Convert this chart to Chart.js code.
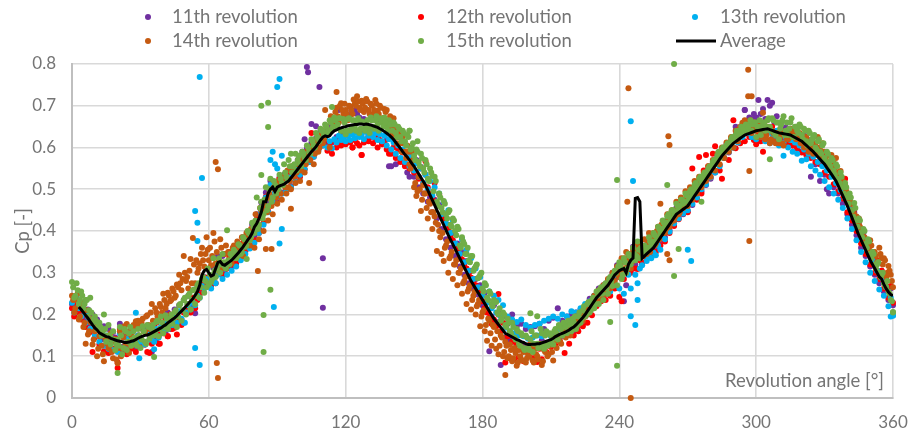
<!DOCTYPE html>
<html>
<head>
<meta charset="utf-8">
<title>Cp over revolution angle</title>
<script src="https://cdn.jsdelivr.net/npm/chart.js@4"></script>
<style>
    html, body { margin: 0; background: #fff; }
    #box { position: relative; width: 909px; height: 430px; }
</style>
</head>
<body>
<div id="box"><canvas id="cpChart"></canvas></div>
<script>
// Values are Cp x 1000, one per degree from 0 to 360
const rev11 = [
225,240,218,232,205,228,190,212,178,200,
160,188,175,140,172,128,165,138,158,145,
128,178,122,150,118,160,128,165,118,150,
132,170,128,168,150,110,175,142,150,160,
195,158,205,165,178,212,175,222,188,235,
202,245,212,218,203,268,252,280,290,282,
278,270,312,295,340,310,340,300,312,345,
315,358,322,368,338,385,352,398,365,415,
388,440,405,468,448,492,470,520,482,515,
485,528,492,535,498,545,508,555,520,570,
535,590,585,598,575,612,590,622,595,640,
612,640,610,650,612,660,625,690,635,672,
688,640,678,632,690,680,672,635,668,650,
630,672,640,668,625,665,610,655,620,555,
555,640,560,625,570,610,560,540,530,585,
530,570,505,553,490,535,470,480,445,475,
430,462,405,438,380,415,360,395,340,370,
315,350,295,328,275,305,262,285,248,270,
222,252,208,112,195,222,182,205,79,195,
145,178,140,200,135,172,130,178,128,165,
125,170,130,172,128,178,138,165,130,185,
135,192,148,215,145,185,150,195,158,200,
160,205,172,212,178,220,200,238,215,245,
228,262,240,270,250,282,262,300,285,318,
290,325,232,270,345,305,362,320,340,355,
322,365,335,372,342,380,355,392,372,408,
385,425,402,438,418,455,430,468,440,475,
448,488,462,500,478,515,495,532,510,548,
525,565,540,580,558,595,575,608,588,618,
600,650,628,640,655,690,662,672,668,680,
672,714,680,692,668,714,700,707,660,675,
625,655,620,648,615,640,605,630,598,622,
590,630,585,618,530,610,560,595,520,580,
535,500,490,550,505,540,490,520,465,495,
440,470,415,445,390,420,360,395,340,370,
315,345,295,325,275,305,255,285,235,262,222
];
const rev12 = [
215,195,228,205,188,215,170,198,158,110,
145,172,128,155,112,148,108,135,118,142,
72,165,112,150,105,158,118,145,110,172,
122,165,128,110,108,130,150,180,130,160,
155,190,148,200,165,168,152,190,175,205,
213,225,205,240,215,235,248,262,272,288,
278,270,285,275,300,305,295,322,310,338,
320,345,325,358,335,372,352,385,362,402,
378,428,395,455,420,482,448,505,468,498,
475,525,490,530,498,535,505,548,520,560,
530,575,548,590,565,635,578,612,595,625,
605,618,592,610,585,615,600,612,605,618,
608,615,612,600,618,610,605,582,612,620,
615,625,610,622,600,618,608,612,595,585,
585,600,575,595,565,588,555,578,550,572,
540,565,525,550,515,567,505,490,480,515,
462,488,435,425,410,405,385,378,365,355,
340,332,320,310,298,288,278,270,262,255,
232,215,205,192,178,188,172,249,160,180,
85,148,95,135,92,128,98,122,88,118,
112,130,95,125,86,118,93,130,110,128,
122,140,125,150,135,165,108,155,130,160,
150,170,160,185,172,195,180,212,198,225,
220,240,232,250,235,265,245,285,262,305,
242,232,285,300,322,300,340,310,309,330,
325,352,335,345,340,368,350,385,365,400,
375,420,395,438,412,448,428,462,442,475,
445,485,550,498,475,577,490,545,582,555,
528,585,603,570,545,525,575,600,570,622,
665,598,642,610,650,615,655,625,640,618,
608,632,615,590,620,640,618,650,625,635,
612,638,615,630,610,635,605,625,598,612,
588,618,582,605,575,595,565,588,560,578,
540,565,530,555,512,535,495,520,478,525,
445,472,425,452,400,430,370,400,345,378,
320,348,300,330,285,305,262,290,240,268,228
];
const rev13 = [
228,205,240,215,195,222,180,205,165,190,
150,178,135,160,125,150,118,142,115,135,
110,155,118,145,125,148,128,140,132,150,
135,165,128,158,140,148,135,165,145,170,
160,178,165,188,175,195,180,208,190,180,
205,222,212,228,222,245,240,268,262,285,
270,262,280,275,295,305,285,310,295,325,
305,335,315,348,330,362,345,375,358,392,
372,420,395,445,415,480,445,510,470,492,
480,512,490,520,498,528,505,538,518,552,
535,568,548,585,565,598,578,608,592,618,
605,622,600,615,598,620,612,628,618,625,
615,628,618,632,622,635,625,630,620,638,
628,640,625,635,618,632,615,628,605,620,
595,612,585,605,575,595,565,585,555,578,
545,562,530,550,515,535,500,520,485,505,
465,490,440,470,418,450,395,425,370,405,
345,380,325,355,305,335,285,310,265,290,
245,270,228,255,215,245,205,235,195,222,
168,195,160,188,155,182,150,188,148,175,
142,168,145,175,150,178,148,185,155,190,
148,195,160,190,165,200,168,195,172,208,
175,205,188,215,195,225,210,232,218,245,
228,252,238,262,250,272,255,290,270,298,
262,290,250,305,295,262,330,295,275,310,
318,345,328,338,335,348,342,365,355,385,
380,412,398,428,418,445,430,458,442,470,
450,480,465,492,480,510,500,525,512,545,
528,555,540,575,555,590,575,600,590,612,
600,628,612,640,625,660,635,650,625,640,
620,652,625,645,615,638,610,632,618,640,
605,632,612,625,600,618,590,612,585,605,
568,595,572,585,555,578,545,565,535,555,
520,545,505,530,490,515,475,498,455,480,
430,455,405,430,378,405,350,380,325,355,
300,330,280,305,260,288,245,265,220,240,198
];
const rev14 = [
245,205,235,188,222,170,130,152,182,128,
160,100,148,125,88,140,120,155,95,135,
83,160,118,172,177,108,150,175,184,185,
168,190,158,198,165,225,180,205,190,218,
250,215,252,232,262,240,272,295,258,340,
280,262,333,383,275,300,322,360,315,385,
330,318,395,322,305,380,310,345,320,350,
322,365,335,352,345,340,375,388,365,405,
360,420,380,450,400,460,425,478,440,500,
465,510,475,525,490,505,500,545,515,560,
520,572,540,582,515,598,560,610,590,625,
610,690,630,600,670,645,695,660,706,680,
690,665,698,680,705,723,695,712,685,716,
690,705,680,714,688,700,670,692,690,665,
650,670,625,640,610,625,590,605,560,590,
505,484,530,448,510,490,430,465,405,435,
352,400,345,328,365,300,340,285,320,270,
300,250,280,225,262,212,245,200,225,172,
205,160,137,185,125,170,118,105,150,100,
135,95,128,88,120,77,115,92,110,85,
105,128,90,118,100,130,79,115,125,105,
130,90,145,150,135,165,150,170,158,185,
165,195,175,205,185,215,200,230,215,245,
228,258,240,270,250,285,262,300,280,315,
290,335,310,350,330,310,355,335,370,345,
350,380,345,395,360,395,370,410,465,420,
395,440,410,450,425,470,440,480,455,495,
460,505,475,520,490,530,505,540,520,555,
530,570,545,585,560,600,575,612,590,625,
600,640,615,650,659,665,640,660,635,655,
640,655,625,683,620,650,610,640,615,635,
610,640,605,630,620,645,630,640,625,635,
630,600,625,590,615,585,610,625,600,610,
590,560,582,582,562,575,540,544,520,510,
490,475,465,440,435,415,405,385,375,355,
378,345,350,325,360,335,335,290,316,295,265
];
const rev15 = [
278,240,275,225,255,215,235,195,240,180,
195,165,180,150,200,135,175,128,160,115,
140,170,105,165,115,155,125,160,130,165,
120,172,135,175,142,165,150,182,148,195,
155,198,165,190,178,205,170,222,185,235,
200,245,212,258,225,270,240,285,252,265,
272,278,335,290,320,300,345,315,402,320,
345,355,335,368,345,385,362,400,378,420,
395,480,415,470,440,505,460,525,480,510,
505,535,515,560,530,570,585,555,585,570,
560,590,575,605,590,620,605,635,622,645,
640,655,635,665,645,672,650,670,640,668,
632,668,640,665,648,660,635,662,645,655,
645,672,650,665,655,670,660,672,650,665,
655,660,635,650,625,640,615,630,640,600,
580,595,565,585,550,570,525,550,532,530,
470,490,455,472,440,445,415,430,400,410,
365,385,369,345,330,340,305,315,287,295,
262,275,240,255,225,235,230,200,185,205,
175,190,160,180,145,165,130,155,120,150,
120,140,110,150,130,125,155,118,160,130,
150,128,165,140,172,150,178,155,182,160,
182,165,195,180,210,195,225,205,235,215,
255,225,265,235,275,250,290,268,305,270,
325,285,335,300,345,320,360,330,375,335,
350,365,350,385,365,395,375,410,395,425,
410,435,420,450,440,465,450,475,465,490,
470,495,485,510,500,525,515,535,530,550,
545,565,560,580,575,595,590,605,600,620,
615,630,625,640,635,650,640,655,640,660,
625,650,630,655,640,665,650,670,635,660,
620,655,675,640,630,660,625,650,640,655,
630,645,615,640,610,625,600,615,590,605,
575,590,565,575,545,560,525,540,505,515,
480,490,450,467,425,430,395,405,370,380,
345,350,320,320,300,295,275,265,255,235,205
];
// The two densest revolutions also have a reading between each whole degree
const rev14Half = [
235,215,250,195,228,180,210,160,190,140,
170,118,155,105,145,130,125,110,140,92,
120,100,145,130,155,125,165,140,175,150,
180,160,195,175,205,185,215,195,225,205,
235,225,245,235,255,245,265,275,285,300,
290,305,275,320,330,310,345,330,345,355,
360,340,375,350,330,360,345,365,350,340,
360,345,375,360,385,370,395,385,405,420,
440,410,455,430,475,445,490,460,505,480,
520,490,530,505,545,520,555,530,540,565,
545,575,560,590,570,605,585,620,600,635,
620,650,640,675,660,685,675,700,690,705,
680,700,690,715,700,710,690,705,695,710,
680,700,690,705,680,695,665,685,655,675,
630,650,610,630,590,610,575,590,550,570,
515,495,500,475,490,455,470,445,445,420,
415,385,395,360,375,335,350,320,330,300,
310,275,290,255,270,235,255,220,235,195,
210,175,190,155,175,140,160,125,145,110,
125,100,115,95,108,85,100,90,112,95,
100,115,85,105,92,120,88,110,100,125,
110,135,120,140,130,155,145,165,150,175,
165,185,180,200,195,210,210,225,225,240,
245,235,262,250,275,265,290,275,305,295,
320,305,335,315,345,325,340,350,360,340,
340,355,370,350,385,365,400,380,415,395,
405,425,420,440,435,455,445,465,460,480,
475,490,490,505,505,520,515,535,530,550,
550,565,565,580,580,595,590,605,605,620,
620,635,630,645,645,655,650,665,645,660,
625,645,635,660,630,645,620,635,610,630,
625,610,635,620,640,625,635,620,630,610,
620,605,615,595,605,590,600,580,590,575,
575,560,565,550,550,535,530,515,505,495,
480,465,450,435,425,410,395,385,370,355,
365,350,340,325,345,320,330,300,305,280
];
const rev15Half = [
265,245,258,235,245,225,235,210,205,190,
185,175,170,160,165,150,150,140,140,128,
125,150,120,160,135,170,140,145,125,150,
140,160,130,170,150,175,160,185,165,180,
170,190,175,200,190,210,195,225,210,240,
225,250,235,260,245,275,265,290,280,310,
295,285,305,310,335,320,325,310,330,345,
335,350,340,365,350,380,365,395,385,410,
425,405,455,430,475,450,500,470,520,490,
500,525,510,540,525,555,540,560,545,580,
555,585,570,600,585,615,600,625,615,640,
630,650,640,660,650,665,655,670,640,660,
640,670,650,665,640,670,645,660,640,665,
635,665,645,675,640,665,650,660,640,655,
640,655,625,645,615,635,605,625,595,610,
570,590,555,575,540,560,520,540,495,520,
460,480,445,465,430,450,410,425,390,405,
360,375,345,360,325,340,310,320,290,300,
255,270,235,250,220,230,205,215,190,200,
170,180,155,170,140,160,125,150,115,145,
115,160,130,150,120,165,130,150,125,155,
140,160,155,175,165,180,170,185,175,190,
195,175,205,190,220,200,230,210,240,225,
245,260,250,270,262,285,280,295,300,315,
315,295,325,310,340,330,345,340,355,360,
345,360,360,375,375,390,385,405,405,420,
420,440,430,450,445,460,460,475,470,485,
480,500,495,515,505,530,525,540,535,555,
555,570,570,590,585,600,595,610,610,625,
625,640,630,650,645,655,650,665,655,660,
650,665,645,660,650,670,640,665,630,660,
645,665,630,660,645,670,625,650,635,650,
620,640,605,635,620,630,595,620,585,610,
565,585,555,570,535,555,515,530,490,505,
465,480,435,455,410,425,385,400,360,375,
335,345,310,325,290,300,270,280,250,232
];
const average = [
null,null,null,218,212,205,198,191,183,175,
168,163,156,153,150,147,146,143,141,139,
137,136,135,133,133,134,136,137,140,143,
146,148,150,151,153,156,159,162,165,168,
172,175,180,184,188,192,197,203,208,214,
220,226,232,238,246,255,270,295,305,308,
300,292,295,310,325,327,320,318,322,326,
330,336,342,348,355,362,370,378,385,395,
410,418,430,445,470,470,490,500,505,495,
505,508,510,512,516,520,527,534,541,548,
555,562,569,576,583,590,596,602,610,618,
625,628,626,628,635,640,642,645,647,649,
650,652,653,654,655,655,656,656,655,656,
655,654,652,650,648,645,642,638,634,630,
625,619,612,605,598,590,583,577,570,562,
555,546,537,528,519,510,498,486,474,462,
450,438,426,414,402,390,379,368,357,346,
335,324,313,302,291,280,271,262,253,244,
235,226,217,208,199,190,183,176,169,162,
155,152,149,146,143,140,138,135,133,130,
128,128,129,129,130,130,132,134,136,138,
140,143,147,150,153,155,157,160,163,167,
170,175,181,187,193,200,208,216,224,232,
240,246,252,258,264,270,278,286,295,300,
305,308,310,300,320,330,335,478,480,470,
335,340,345,350,355,360,368,376,384,392,
400,408,416,424,432,440,444,448,452,456,
460,468,476,484,492,500,508,516,524,532,
540,548,556,564,572,580,586,592,598,604,
610,614,618,622,626,630,632,634,636,638,
640,641,642,643,644,645,643,641,639,637,
635,634,633,632,631,630,627,624,621,618,
615,610,605,600,595,590,584,578,572,566,
560,552,544,536,528,520,508,496,484,472,
460,446,432,418,404,390,378,366,354,342,
330,320,310,300,290,285,272,262,254,248,245
];

// Stray points as [angle, Cp x 1000]
const stray11 = [[102,620],[103,793],[103.5,780],[105,656],[107,651],[108.5,745],[110,335],[110,216],[295,690],[187,200]];
const stray12 = [[127,582],[123,600],[20,85],[42,148],[38.5,130]];
const stray13 = [[56,769],[57,527],[54,448],[91,764],[90,745],[88,590],[87,570],[89,560],[92,580],[90,550],[55,420],[55,376],[54,120],[56,79],[88.5,218],[49.5,180],[92,405],[91,370],[245,663],[246,520],[248,235],[245,196],[247,175],[270,355],[271.5,328],[312,580],[359,195],[360,197],[36,117],[28,204],[29.5,95]];
const stray14 = [[63,565],[64,548],[63.5,84],[64,48],[96,453],[116,733],[244,742],[296.5,786],[296.5,723],[298,723],[261.5,627],[262,606],[297,544],[243.5,470],[297,376],[245,0],[261,345],[262,330],[190,55],[81.5,304],[85,357],[87.5,357]];
const stray15 = [[83,700],[86,707],[86,649],[83,534],[84,199],[87,259],[84,110],[36,98],[20,60],[264,800],[239,522],[261,510],[306,572],[239,77],[264,292],[236,182],[266,357],[114,697],[148,640],[76.6,333],[151.5,615],[201,203],[204,196],[276,470],[360,206]];

const labels = ['11th revolution', '12th revolution', '13th revolution', '14th revolution', '15th revolution', 'Average'];
const colors = ['#7030A0', '#FF0000', '#00B0F0', '#C55A11', '#70AD47', '#000000'];

const textColor = '#757575';
const fontName = 'Lato, "Open Sans", sans-serif';

function toPoints(values, strays, halves) {
    const pts = values.map((v, i) => ({ x: i, y: v === null ? null : v / 1000 }));
    halves.forEach((v, i) => pts.push({ x: i + 0.5, y: v / 1000 }));
    strays.forEach(s => pts.push({ x: s[0], y: s[1] / 1000 }));
    return pts;
}

function dotSet(i, values, strays, halves) {
    return {
        label: labels[i],
        data: toPoints(values, strays, halves || []),
        backgroundColor: colors[i],
        pointRadius: 3,
        pointBorderWidth: 0,
        showLine: false,
        clip: false,
        order: 6 - i
    };
}

// Legend is laid out in three wide columns, and the x title sits inside the plot
const chartNotes = {
    id: 'chartNotes',
    afterDraw(chart) {
        const c = chart.ctx;
        const columns = [[148, 172], [421, 446], [695, 720]];
        c.save();
        c.font = '18.5px ' + fontName;
        c.textBaseline = 'middle';
        c.textAlign = 'left';
        labels.forEach((label, i) => {
            const col = columns[i % 3];
            const y = i < 3 ? 17 : 41;
            if (i === 5) {
                c.strokeStyle = colors[i];
                c.lineWidth = 3;
                c.beginPath();
                c.moveTo(676, y);
                c.lineTo(716, y);
                c.stroke();
            } else {
                c.fillStyle = colors[i];
                c.beginPath();
                c.arc(col[0], y, 3, 0, Math.PI * 2);
                c.fill();
            }
            c.fillStyle = textColor;
            c.fillText(label, col[1], y);
        });
        c.textAlign = 'right';
        c.fillText('Revolution angle [°]', 884, 381);
        c.restore();
    }
};

new Chart(document.getElementById('cpChart'), {
    type: 'scatter',
    data: {
        datasets: [
            dotSet(0, rev11, stray11),
            dotSet(1, rev12, stray12),
            dotSet(2, rev13, stray13),
            dotSet(3, rev14, stray14, rev14Half),
            dotSet(4, rev15, stray15, rev15Half),
            {
                label: labels[5],
                data: toPoints(average, [], []),
                borderColor: colors[5],
                borderWidth: 3,
                pointRadius: 0,
                showLine: true,
                tension: 0,
                order: 0
            }
        ]
    },
    options: {
        responsive: true,
        maintainAspectRatio: false,
        animation: false,
        layout: { padding: { top: 64, right: 16, left: 0, bottom: 0 } },
        plugins: { legend: { display: false }, tooltip: { enabled: false } },
        scales: {
            x: {
                type: 'linear',
                min: 0,
                max: 360,
                afterFit(scale) {
                    scale.height = 32;
                    scale.paddingLeft = 0;
                    scale.paddingRight = 0;
                },
                grid: { color: '#d9d9d9', lineWidth: 1.6, drawTicks: false },
                border: { color: '#bfbfbf', width: 2 },
                ticks: { stepSize: 60, maxRotation: 0, padding: 14, color: textColor, font: { family: fontName, size: 17 } }
            },
            y: {
                min: 0,
                max: 0.8,
                afterFit(scale) { scale.width = 72; },
                grid: { color: '#d9d9d9', lineWidth: 1.6, drawTicks: false },
                border: { color: '#bfbfbf', width: 2 },
                title: { display: true, text: 'Cp [-]', color: textColor, padding: { top: 12, bottom: 0 }, font: { family: fontName, size: 18.5 } },
                ticks: { stepSize: 0.1, padding: 16, color: textColor, font: { family: fontName, size: 17 } }
            }
        }
    },
    plugins: [chartNotes]
});
</script>
</body>
</html>
